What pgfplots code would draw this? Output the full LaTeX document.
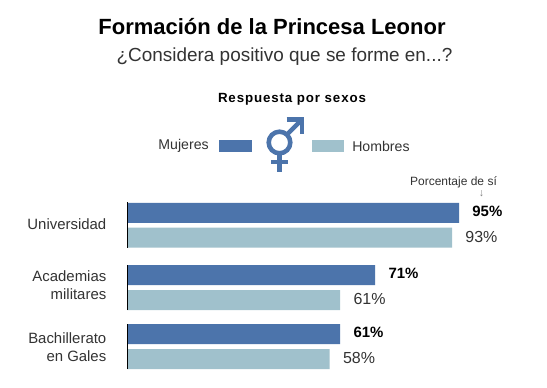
\documentclass[border=0pt]{standalone}
\usepackage{pgfplots}
\pgfplotsset{compat=1.18}
\usepackage{fontspec}
\setmainfont{Liberation Sans}
\definecolor{blu}{HTML}{4C74AB}
\definecolor{tea}{HTML}{A0C1CC}
\definecolor{txt}{HTML}{333333}
\begin{document}
\begin{tikzpicture}[x=0.75pt,y=-0.75pt]
\path[use as bounding box,fill=white] (0,0) rectangle (547,387);
\begin{axis}[
  at={(95.25pt,-290.25pt)},anchor=south west,
  scale only axis,width=315pt,height=290.25pt,
  xmin=0,xmax=120.17,ymin=0,ymax=387,y dir=reverse,
  axis line style={draw=none},
  xtick=\empty,
  ytick={224,285,347},
  yticklabels={Universidad,{Academias\\militares},{Bachillerato\\en Gales}},
  major tick length=0pt,
  yticklabel style={align=right,font=\fontsize{11.2pt}{13.5pt}\selectfont,text=txt},
  ytick pos=left,
  clip=false,
  every y tick label/.append style={xshift=-12pt},
  /pgf/number format/assume math mode=true,
]
\addplot[xbar,bar shift=0pt,bar width=15pt,fill=blu,draw=none,
  point meta=x,nodes near coords={\pgfmathprintnumber{\pgfplotspointmeta}\%},
  nodes near coords align=horizontal,
  every node near coord/.style={anchor=west,xshift=6.5pt,yshift=1.2pt,font=\fontsize{11.2pt}{12pt}\selectfont\bfseries,text=black}]
 coordinates {(95,212.8) (71,275) (61,334)};
\addplot[xbar,bar shift=0pt,bar width=15pt,fill=tea,draw=none,
  point meta=x,nodes near coords={\pgfmathprintnumber{\pgfplotspointmeta}\%},
  nodes near coords align=horizontal,
  every node near coord/.style={anchor=west,xshift=6.5pt,yshift=0.8pt,font=\fontsize{12pt}{12pt}\selectfont,text=txt}]
 coordinates {(93,237.7) (61,300) (58,359)};
\addplot[black,line width=0.75pt,no markers,unbounded coords=jump] coordinates {
 (0,202) (0,248) (0,nan) (0,265) (0,310) (0,nan) (0,324) (0,369)};
\end{axis}
\node[font=\fontsize{16.5pt}{18pt}\selectfont\bfseries,text=black] at (272,27) {Formación de la Princesa Leonor};
\node[font=\fontsize{14.2pt}{15pt}\selectfont,text=txt] at (284.5,57) {¿Considera positivo que se forme en...?};
\node[font=\fontsize{10pt}{12pt}\selectfont\bfseries\addfontfeature{LetterSpace=6.5},text=black] at (292,99) {Respuesta por sexos};
\node[font=\fontsize{10.6pt}{12pt}\selectfont,text=txt,anchor=east,inner sep=0pt] at (209,146) {Mujeres};
\node[font=\fontsize{10.6pt}{12pt}\selectfont,text=txt,anchor=west,inner sep=0pt] at (352,146) {Hombres};
\fill[blu] (219,139.5) rectangle (252,151.5);
\fill[tea] (311.5,139.5) rectangle (344,151.5);
\draw[blu,line width=3.4pt] (279.5,142.5) circle (10.8);
\draw[blu,line width=3.2pt] (279.5,154) -- (279.5,171.5);
\draw[blu,line width=3pt] (271,162) -- (288,162);
\draw[blu,line width=3.2pt] (287,134.5) -- (301,120.5);
\draw[blu,line width=3.2pt] (286.5,119.5) -- (302,119.5) -- (302,134);
\node[font=\fontsize{9pt}{9pt}\selectfont,text=txt] at (453.5,182) {Porcentaje de sí};
\node[font=\fontsize{8pt}{7pt}\selectfont,text=gray] at (481.5,194) {↓};
\end{tikzpicture}
\end{document}
